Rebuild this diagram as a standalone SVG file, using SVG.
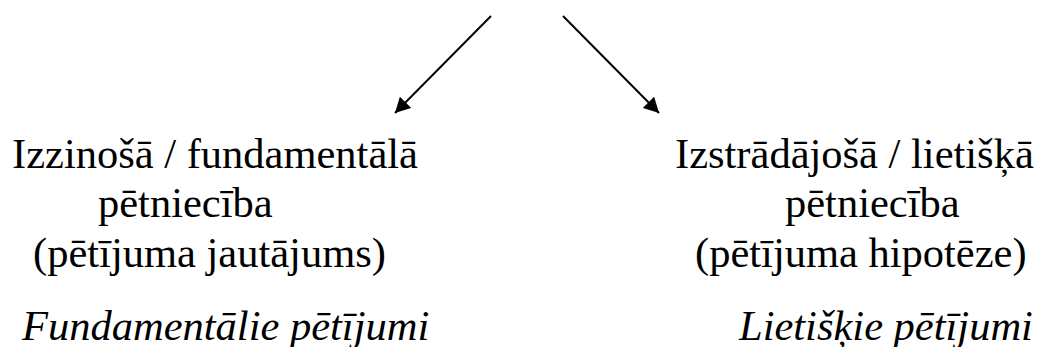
<svg xmlns="http://www.w3.org/2000/svg" width="1038" height="347" viewBox="0 0 1038 347">
<style>
text{font-family:"Liberation Serif","Times New Roman",serif;font-size:42.5px;fill:#000}
.it{font-style:italic}
.c{stroke:#000;stroke-width:2;fill:none}
</style>
<defs>
<marker id="ah" viewBox="0 0 10 10" refX="10" refY="5" markerWidth="15" markerHeight="16" markerUnits="userSpaceOnUse" orient="auto" preserveAspectRatio="none">
<path d="M0,0 L10,5 L0,10 z" fill="#000"/>
</marker>
</defs>
<rect width="1038" height="347" fill="#fff"/>
<g id="connectors">
<line class="c" x1="491" y1="16" x2="395" y2="113" marker-end="url(#ah)"/>
<line class="c" x1="563" y1="16" x2="659" y2="113" marker-end="url(#ah)"/>
</g>
<g id="node-left">
<text x="12" y="168">Izzinošā / fundamentālā</text>
<text x="98" y="217">pētniecība</text>
<text x="33" y="267">(pētījuma jautājums)</text>
<text class="it" x="22" y="340">Fundamentālie pētījumi</text>
</g>
<g id="node-right">
<text x="675" y="168">Izstrādājošā / lietišķā</text>
<text x="785" y="217">pētniecība</text>
<text x="695" y="267">(pētījuma hipotēze)</text>
<text class="it" x="739" y="340">Lietišķie pētījumi</text>
</g>
</svg>
